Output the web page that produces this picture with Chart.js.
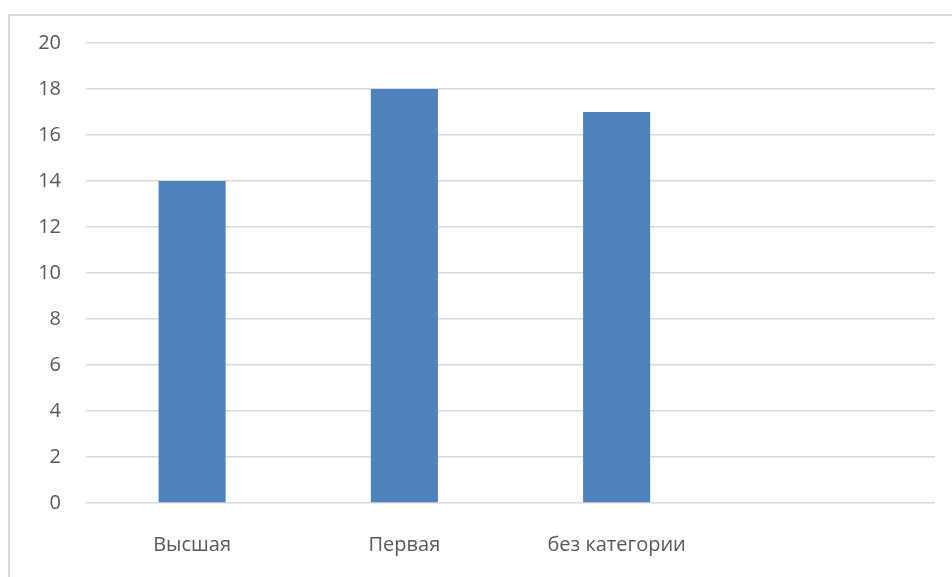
<!DOCTYPE html>
<html>
<head>
<meta charset="utf-8">
<script src="https://cdn.jsdelivr.net/npm/chart.js@4.4.1/dist/chart.umd.min.js"></script>
<style>
  html, body { margin: 0; padding: 0; background: #fff; overflow: hidden; }
  #wrap { position: relative; width: 952px; height: 577px; }
  #frame {
    position: absolute; left: 8px; top: 14px; width: 1000px; height: 1000px;
    border: 2px solid #d9d9d9; box-sizing: border-box;
  }
  #chart { position: absolute; left: 0; top: 0; }
</style>
</head>
<body>
<div id="wrap">
  <div id="frame"></div>
  <canvas id="chart" width="952" height="577"></canvas>
</div>
<script>
const categories = ["Высшая", "Первая", "без категории", ""];
const values = [14, 18, 17, null];
const yMin = 0;
const yMax = 20;
const yStep = 2;

const ctx = document.getElementById("chart");

new Chart(ctx, {
  type: "bar",
  data: {
    labels: categories,
    datasets: [
      {
        data: values,
        backgroundColor: "#4f81bd",
        borderWidth: 0,
        categoryPercentage: 1,
        barPercentage: 0.316,
      },
    ],
  },
  options: {
    responsive: false,
    animation: false,
    layout: {
      padding: { top: 43, right: 17, bottom: 0, left: 0 },
    },
    plugins: {
      legend: { display: false },
      tooltip: { enabled: false },
    },
    scales: {
      x: {
        grid: { display: false, drawTicks: false },
        border: { display: false },
        ticks: {
          color: "#595959",
          font: { family: "Open Sans", size: 20 },
          padding: 30,
          maxRotation: 0,
          autoSkip: false,
        },
        afterFit: (axis) => {
          axis.height = 74;
        },
      },
      y: {
        min: yMin,
        max: yMax,
        grid: { color: "#d9d9d9", lineWidth: 1.5, drawTicks: false },
        border: { display: false },
        ticks: {
          stepSize: yStep,
          color: "#595959",
          font: { family: "Open Sans", size: 20 },
          padding: 25,
        },
        afterFit: (axis) => {
          axis.width = 86;
        },
      },
    },
  },
});
</script>
</body>
</html>
